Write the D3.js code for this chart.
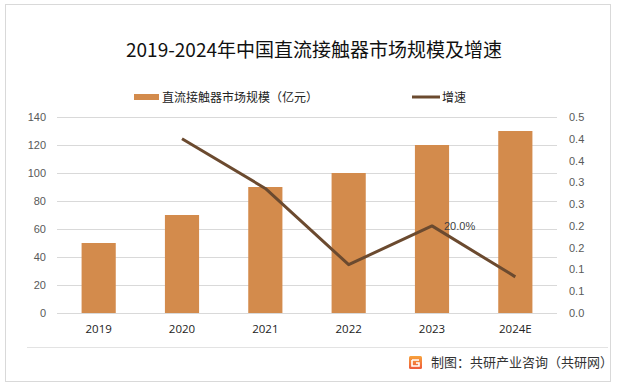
<!DOCTYPE html>
<html>
<head>
<meta charset="utf-8">
<script src="https://cdn.jsdelivr.net/npm/d3@7"></script>
<style>
  body { margin: 0; background: #fff; }
  svg { display: block; }
</style>
</head>
<body>
<svg id="chart" width="617" height="386"></svg>
<script>
// data
const years = ['2019', '2020', '2021', '2022', '2023', '2024E']
const scale = [50, 70, 90, 100, 120, 130]          // 亿元
const growth = [null, 0.4, 0.286, 0.111, 0.2, 0.083]
const leftTicks = [0, 20, 40, 60, 80, 100, 120, 140]
const rightTicks = [0, 0.05, 0.1, 0.15, 0.2, 0.25, 0.3, 0.35, 0.4, 0.45]
const rightLabels = ['0.0', '0.1', '0.1', '0.2', '0.2', '0.3', '0.3', '0.4', '0.4', '0.5']

const barColor = '#d38b4c'
const lineColor = '#6b4a2f'
const cjk = '"Noto Sans CJK SC", "Noto Sans", sans-serif'
const num = '"Liberation Sans", Arial, sans-serif'

const plot = {left: 57, right: 557, top: 117, bottom: 313}

const svg = d3.select('#chart')

// frame
svg.append('rect')
  .attr('x', 5.5).attr('y', 4.5)
  .attr('width', 605).attr('height', 377)
  .attr('fill', '#fff')
  .attr('stroke', '#d9d9d9')
  .attr('stroke-width', 1)

svg.append('line')
  .attr('x1', 27).attr('x2', 608)
  .attr('y1', 347.5).attr('y2', 347.5)
  .attr('stroke', '#e3e3e3')

// title
svg.append('text')
  .attr('x', 314).attr('y', 57)
  .attr('text-anchor', 'middle')
  .attr('font-family', cjk)
  .attr('font-size', 19)
  .attr('fill', '#111')
  .text('2019-2024年中国直流接触器市场规模及增速')

// scales
const x = d3.scaleBand()
  .domain(years)
  .range([plot.left, plot.right])
  .paddingInner(0.59)
  .paddingOuter(0.295)

const y = d3.scaleLinear()
  .domain([0, 140])
  .range([plot.bottom, plot.top])

const y2 = d3.scaleLinear()
  .domain([0, 0.45])
  .range([plot.bottom, plot.top])

// gridlines
const grid = svg.append('g')
grid.selectAll('line')
  .data(leftTicks)
  .enter().append('line')
  .attr('x1', plot.left).attr('x2', plot.right)
  .attr('y1', d => Math.round(y(d)) + 0.5)
  .attr('y2', d => Math.round(y(d)) + 0.5)
  .attr('stroke', '#d9d9d9')
  .attr('stroke-width', 1)

// left axis
const yAxis = svg.append('g')
  .attr('transform', `translate(${plot.left - 11},0)`)
  .call(d3.axisLeft(y).tickValues(leftTicks).tickSize(0).tickPadding(0))
yAxis.select('.domain').remove()
yAxis.selectAll('text')
  .attr('font-family', num)
  .attr('font-size', 11)
  .attr('fill', '#595959')

// right axis
const y2Axis = svg.append('g')
  .attr('transform', `translate(${plot.right + 12},0)`)
  .call(d3.axisRight(y2).tickValues(rightTicks)
    .tickFormat((d, i) => rightLabels[i]).tickSize(0).tickPadding(0))
y2Axis.select('.domain').remove()
y2Axis.selectAll('text')
  .attr('font-family', num)
  .attr('font-size', 11)
  .attr('fill', '#595959')

// x axis labels
const xAxis = svg.append('g')
  .attr('transform', `translate(0,${plot.bottom + 12})`)
  .call(d3.axisBottom(x).tickSize(0).tickPadding(0))
xAxis.select('.domain').remove()
xAxis.selectAll('text')
  .attr('font-family', '"Open Sans", sans-serif')
  .attr('font-size', 11.5)
  .attr('fill', '#222')

// bars
svg.append('g')
  .selectAll('rect')
  .data(years)
  .enter().append('rect')
  .attr('x', d => x(d))
  .attr('width', x.bandwidth())
  .attr('y', (d, i) => y(scale[i]))
  .attr('height', (d, i) => y(0) - y(scale[i]))
  .attr('fill', barColor)

// growth line
const pts = years.map((d, i) => ({year: d, v: growth[i]})).filter(d => d.v !== null)
const line = d3.line()
  .x(d => x(d.year) + x.bandwidth() / 2)
  .y(d => y2(d.v))

svg.append('path')
  .datum(pts)
  .attr('d', line)
  .attr('fill', 'none')
  .attr('stroke', lineColor)
  .attr('stroke-width', 3)
  .attr('stroke-linejoin', 'round')

// data label 2023
const p23 = pts.find(d => d.year === '2023')
svg.append('text')
  .attr('x', x('2023') + x.bandwidth() / 2 + 12)
  .attr('y', y2(p23.v) + 4)
  .attr('font-family', num)
  .attr('font-size', 11)
  .attr('fill', '#404040')
  .text(d3.format('.1%')(p23.v))

// legend
const legend = svg.append('g')
legend.append('rect')
  .attr('x', 134).attr('y', 94)
  .attr('width', 25).attr('height', 6)
  .attr('fill', barColor)
legend.append('text')
  .attr('x', 162).attr('y', 102)
  .attr('font-family', cjk)
  .attr('font-size', 12)
  .attr('fill', '#222')
  .text('直流接触器市场规模（亿元）')
legend.append('line')
  .attr('x1', 412).attr('x2', 440)
  .attr('y1', 97).attr('y2', 97)
  .attr('stroke', lineColor)
  .attr('stroke-width', 3)
legend.append('text')
  .attr('x', 442).attr('y', 102)
  .attr('font-family', cjk)
  .attr('font-size', 12)
  .attr('fill', '#222')
  .text('增速')

// footer
const grad = svg.append('defs').append('linearGradient')
  .attr('id', 'logoGrad')
  .attr('x1', 0).attr('y1', 0).attr('x2', 0).attr('y2', 1)
grad.append('stop').attr('offset', 0).attr('stop-color', '#f7a23c')
grad.append('stop').attr('offset', 1).attr('stop-color', '#ee5a3a')

const logo = svg.append('g').attr('transform', 'translate(409,356)')
logo.append('rect')
  .attr('width', 13).attr('height', 13).attr('rx', 1.5)
  .attr('fill', 'url(#logoGrad)')
logo.append('path')
  .attr('d', 'M3 4 H10 M3 4 V10 H10 V7 H7')
  .attr('fill', 'none')
  .attr('stroke', '#fff')
  .attr('stroke-width', 1.6)

svg.append('text')
  .attr('x', 431).attr('y', 367)
  .attr('font-family', cjk)
  .attr('font-size', 13)
  .attr('fill', '#333')
  .text('制图：共研产业咨询（共研网）')
</script>
</body>
</html>
